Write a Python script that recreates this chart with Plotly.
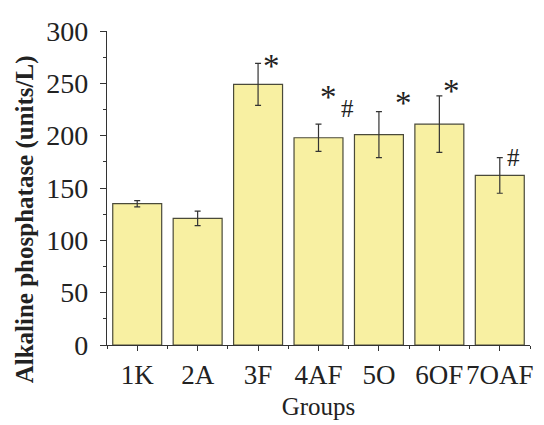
import plotly.graph_objects as go

groups = ["1K", "2A", "3F", "4AF", "5O", "6OF", "7OAF"]
means = [135, 121, 249, 198, 201, 211, 162]
errors = [3, 7, 20, 13, 22, 27, 17]
marks = ["", "", "*", "*#", "*", "*", "#"]

y_ticks = [0, 50, 100, 150, 200, 250, 300]

xs = list(range(len(groups)))
serif = "Liberation Serif"

fig = go.Figure()
fig.add_trace(go.Bar(
    x=xs, y=means,
    marker=dict(color="#F8F0A2", line=dict(color="#4a4a3a", width=1.2)),
    error_y=dict(type="data", array=errors, visible=True, color="#333333",
                 thickness=1.2, width=3),
    width=0.81,
))

# offsets of significance marks relative to bar centre / error-bar top
star_dx = {2: 0.23, 3: 0.17, 4: 0.40, 5: 0.20}
star_dy = {2: -2, 3: 26, 4: 8, 5: 5}
hash_dx = {3: 0.34, 6: 0.23}
hash_dy = {3: 15, 6: 0}

annotations = []
for i, (m, e, s) in enumerate(zip(means, errors, marks)):
    top = m + e
    if "*" in s:
        annotations.append(dict(x=i + star_dx[i], y=top + star_dy[i], text="*",
                                showarrow=False, yanchor="middle", xanchor="center",
                                font=dict(family=serif, size=33, color="#222")))
    if "#" in s:
        annotations.append(dict(x=i + hash_dx[i], y=top + hash_dy[i], text="#",
                                showarrow=False, yanchor="middle",
                                xanchor="left" if "*" in s else "center",
                                font=dict(family=serif, size=25, color="#222")))

annotations.append(dict(
    text="<b>Alkaline phosphatase (units/L)</b>", textangle=-90,
    xref="paper", yref="paper", x=-0.194, y=0.40,
    xanchor="center", yanchor="middle", showarrow=False,
    font=dict(family=serif, size=25, color="#222"),
))

fig.update_layout(
    width=536, height=417,
    margin=dict(l=99, r=14, t=23, b=80),
    paper_bgcolor="white", plot_bgcolor="white",
    showlegend=False,
    annotations=annotations,
    font=dict(family=serif, color="#222"),
    xaxis=dict(
        range=[-0.5, 6.5], automargin=False,
        tickvals=xs, ticktext=groups, tickangle=0,
        ticks="outside", ticklen=5, tickwidth=1, tickcolor="#333",
        showline=True, linecolor="#333", linewidth=1.2,
        showgrid=False, zeroline=False,
        tickfont=dict(family=serif, size=27, color="#222"),
        minor=dict(tick0=0.5, dtick=1, ticks="outside", ticklen=3, tickcolor="#333"),
        title=dict(text="Groups", font=dict(family=serif, size=25, color="#222"), standoff=8),
    ),
    yaxis=dict(
        range=[0, 300], automargin=False,
        tickvals=y_ticks,
        ticks="outside", ticklen=6, tickwidth=1, tickcolor="#333",
        showline=True, linecolor="#333", linewidth=1.2,
        showgrid=False, zeroline=False,
        ticklabelstandoff=6,
        tickfont=dict(family=serif, size=28, color="#222"),
        minor=dict(dtick=25, ticks="outside", ticklen=3, tickcolor="#333"),
    ),
)

fig.write_html("out.html")
